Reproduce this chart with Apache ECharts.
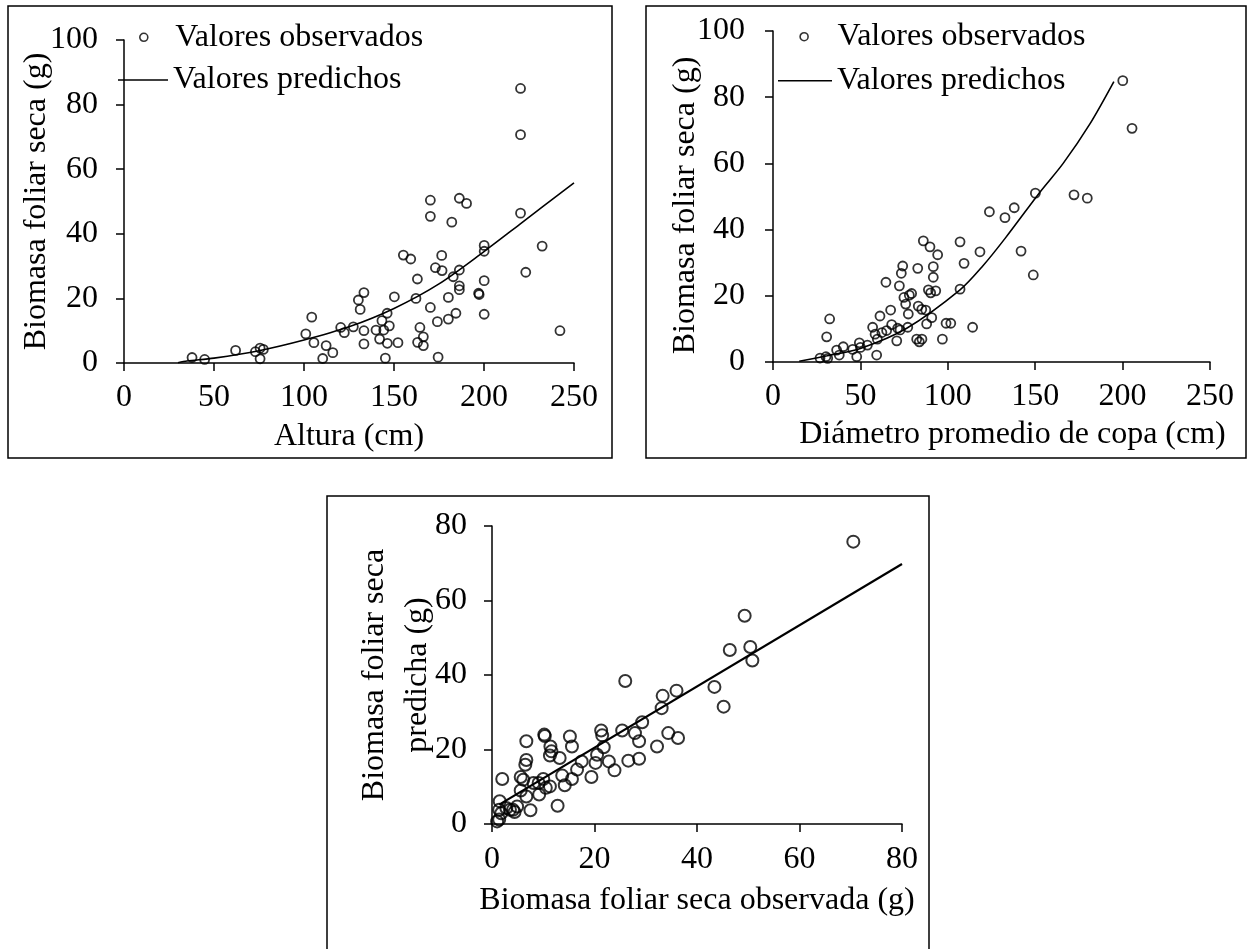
<!DOCTYPE html>
<html>
<head>
<meta charset="utf-8">
<script src="https://cdn.jsdelivr.net/npm/echarts@6/dist/echarts.min.js"></script>
<style>
  html, body { margin: 0; padding: 0; background: #fff; }
  #chart { width: 1250px; height: 949px; }
</style>
</head>
<body>
<div id="chart"></div>
<script>
// altura (cm) vs biomasa foliar seca observada (g)
var alturaObs = [
  [37.8,1.7],[44.8,1.1],[62,3.9],[73,3.5],[75.6,4.6],[77.4,4.2],[75.6,1.3],
  [101,9.0],[104.3,14.2],[105.5,6.3],[110.4,1.4],[112.3,5.4],[116,3.2],
  [120.4,11.0],[122.4,9.4],[127.4,11.2],[130.2,19.5],[131.2,16.6],[133.3,21.8],[133.3,10.0],[133.3,5.9],
  [140,10.2],[142,7.4],[143.3,13.1],[144.3,10.2],[146.2,15.4],[147.4,11.5],[146.3,6.1],[145.2,1.5],[150.2,20.5],[152.2,6.3],
  [155.2,33.4],[159.3,32.2],[163,26.0],[162.2,20.0],[164.4,11.0],[163.1,6.4],[166.3,8.1],[166.3,5.4],
  [170.2,50.4],[170.2,45.4],[170.2,17.2],[173,29.5],[174.1,12.8],[174.5,1.8],[176.5,33.3],[176.7,28.6],
  [182.1,43.6],[182.9,26.7],[186.3,28.8],[186.3,23.9],[186.3,22.7],[180.2,20.3],[184.4,15.4],[180.2,13.6],
  [186.3,51.0],[190.3,49.4],[197,21.6],[197.3,21.2],[200.1,36.4],[200.1,34.6],[200.1,25.5],[200.1,15.1],
  [220.3,85.0],[220.3,70.7],[220.3,46.4],[223.2,28.1],[232.3,36.2],[242.2,10.0]
];
var alturaPred = [
  [30,0.1],[35,0.6],[50,1.5],[75,3.8],[100,7.1],[125,11.2],[150,16.9],[175,24.5],[200,34.5],[220,43],[250,55.8]
];

// diámetro promedio de copa (cm) vs biomasa foliar seca (g)
var copaObs = [
  [26.9,1.2],[30.3,1.6],[31.3,1.1],[30.7,7.6],[32.4,13.0],[36.4,3.6],[37.9,2.1],[40.2,4.6],[45.6,3.8],[47.9,1.6],[49.4,5.8],[50,4.4],[54,5.1],
  [57,10.5],[59.3,2.1],[58.4,8.4],[59.7,6.9],[61.2,13.9],[62.3,8.9],[64.6,24.1],[65,9.5],[67.3,15.7],[67.9,11.3],[70.8,6.4],[71.3,10.2],[72.7,9.7],
  [72.3,23.0],[73.4,26.8],[74.2,29.0],[74.9,19.5],[75.9,17.5],[77.1,10.5],[77.4,14.5],[78,20.2],[79.3,20.7],[82.8,28.3],[83.1,16.9],[85.1,15.9],
  [82.2,6.9],[83.7,6.1],[85.2,6.9],[86,36.6],[87.4,15.7],[87.9,11.5],[89.8,34.8],[88.9,21.8],[90.2,20.9],[90.8,13.4],[91.7,28.8],[91.7,25.6],
  [93.1,21.5],[94.2,32.4],[96.9,6.9],[99,11.7],[101.7,11.7],[107,36.3],[107,22.0],[109.3,29.8],[114.2,10.5],[118.4,33.3],
  [123.8,45.4],[132.7,43.6],[138,46.6],[141.9,33.5],[148.9,26.3],[150.1,51.0],[172.2,50.5],[179.8,49.5],[200.1,85.0],[205.4,70.6]
];
var copaPred = [
  [15,0.2],[31,1.9],[50,4.1],[76.5,10.2],[107,21.8],[120,29],[133,37.5],[152.7,51.3],[166,60],[181.4,72],[195,84.7]
];

// biomasa observada vs predicha (g)
var obsPred = [
  [70.5,75.8],[49.3,55.9],[46.4,46.7],[50.4,47.5],[50.8,43.9],[43.4,36.8],[45.2,31.5],
  [26.0,38.4],[33.3,34.4],[33.1,31.1],[36.0,35.8],[29.3,27.3],[25.4,25.1],[21.3,25.1],[21.5,23.8],[21.8,20.6],
  [20.5,18.6],[20.2,16.4],[22.8,16.8],[23.9,14.4],[27.9,24.4],[28.7,22.2],[28.7,17.5],[26.6,17.0],[32.2,20.8],
  [34.4,24.4],[36.3,23.1],[19.4,12.6],[17.5,16.8],[16.6,14.6],[15.6,12.1],[15.2,23.5],[15.6,20.8],[14.2,10.4],
  [13.7,13.0],[13.2,17.7],[12.8,4.9],[11.4,20.8],[11.6,19.5],[11.3,18.4],[11.3,10.1],[10.2,24.0],[10.3,23.6],
  [10.0,12.1],[10.5,9.7],[9.2,7.9],[9.1,11.0],[8.1,11.0],[6.7,22.2],[6.7,17.2],[6.5,15.9],[5.6,12.6],[6.1,11.9],
  [5.6,9.0],[6.7,7.4],[7.5,3.7],[2.0,12.1],[1.5,6.1],[1.4,3.8],[1.8,2.9],[1.4,1.2],[4.1,3.8],[4.4,3.2],[4.9,4.7],
  [3.5,3.8],[2.8,4.3],[1.0,0.7]
];
var obsPredLine = [[1.4,5.2],[80,69.8]];

var xTicksTop = [0, 250, 50];
var yTicksTop = [0, 100, 20];
var ticksBottom = [0, 80, 20];

var font = "'Liberation Serif', 'Times New Roman', serif";
var chart = echarts.init(document.getElementById('chart'));

function axis(gridIndex, ticks, name, nameGap, labelMargin, extra) {
  var a = {
    type: 'value',
    gridIndex: gridIndex,
    min: ticks[0], max: ticks[1], interval: ticks[2],
    name: name,
    nameLocation: 'middle',
    nameGap: nameGap,
    nameMoveOverlap: false,
    nameTextStyle: { fontFamily: font, fontSize: 32, color: '#000' },
    axisLine: { show: true, onZero: false, lineStyle: { color: '#000', width: 1.5 } },
    axisTick: { show: true, inside: false, length: 8, lineStyle: { color: '#000', width: 1.5 } },
    axisLabel: { fontFamily: font, fontSize: 32, color: '#000', margin: labelMargin },
    splitLine: { show: false }
  };
  for (var k in extra) a[k] = extra[k];
  return a;
}

var ptStyle = { color: 'rgba(0,0,0,0)', borderColor: '#000', borderWidth: 1.8 };

// legend item box is as tall as the text (32px), icon centred in it
function legendCircle(left, top, textPad) {
  return {
    left: left, top: top, padding: 0,
    itemWidth: 8, itemHeight: 8,
    data: [{ name: 'Valores observados', icon: 'circle' }],
    itemStyle: { color: 'rgba(0,0,0,0)', borderColor: '#000', borderWidth: 1.6 },
    textStyle: { fontFamily: font, fontSize: 32, color: '#000', padding: [0, 0, 0, textPad] },
    selectedMode: false
  };
}
function legendLine(left, top, width) {
  return {
    left: left, top: top, padding: 0,
    itemWidth: width, itemHeight: 1.6,
    data: [{ name: 'Valores predichos', icon: 'rect' }],
    itemStyle: { color: '#000', borderWidth: 0 },
    textStyle: { fontFamily: font, fontSize: 32, color: '#000' },
    selectedMode: false
  };
}

var option = {
  animation: false,
  backgroundColor: '#fff',
  graphic: [
    { type: 'rect', silent: true, shape: { x: 8, y: 6, width: 604, height: 452 }, style: { fill: 'none', stroke: '#000', lineWidth: 1.5 } },
    { type: 'rect', silent: true, shape: { x: 646, y: 6, width: 600, height: 452 }, style: { fill: 'none', stroke: '#000', lineWidth: 1.5 } },
    { type: 'rect', silent: true, shape: { x: 327, y: 496, width: 602, height: 470 }, style: { fill: 'none', stroke: '#000', lineWidth: 1.5 } }
  ],
  legend: [
    legendCircle(139, 21.3, 22.5),
    legendLine(118, 64, 50),
    legendCircle(799.3, 20.7, 24.5),
    legendLine(778, 64.7, 54)
  ],
  grid: [
    { left: 124, top: 40, width: 450, height: 323 },
    { left: 773, top: 31, width: 437, height: 331 },
    { left: 492, top: 526, width: 410, height: 298 }
  ],
  xAxis: [
    axis(0, xTicksTop, 'Altura (cm)', 58, 19, {}),
    axis(1, xTicksTop, 'Diámetro promedio de copa (cm)', 57, 19, { nameTextStyle: { fontFamily: font, fontSize: 32, color: '#000', padding: [0, 0, 0, 42] } }),
    axis(2, ticksBottom, 'Biomasa foliar seca observada (g)', 61, 20, {})
  ],
  yAxis: [
    axis(0, yTicksTop, 'Biomasa foliar seca (g)', 71, 26, {}),
    axis(1, yTicksTop, 'Biomasa foliar seca (g)', 71, 28, { nameTextStyle: { fontFamily: font, fontSize: 32, color: '#000', padding: [0, 18, 0, 0] } }),
    axis(2, ticksBottom, 'Biomasa foliar seca\npredicha (g)', 53, 25, { nameTextStyle: { fontFamily: font, fontSize: 32, color: '#000', lineHeight: 43 } })
  ],
  series: [
    { name: 'Valores observados', type: 'scatter', xAxisIndex: 0, yAxisIndex: 0, data: alturaObs, symbol: 'circle', symbolSize: 9, itemStyle: ptStyle },
    { name: 'Valores predichos', type: 'line', xAxisIndex: 0, yAxisIndex: 0, data: alturaPred, symbol: 'none', smooth: 0.3, lineStyle: { color: '#000', width: 1.6 }, itemStyle: { color: '#000' } },
    { name: 'Valores observados', type: 'scatter', xAxisIndex: 1, yAxisIndex: 1, data: copaObs, symbol: 'circle', symbolSize: 9, itemStyle: ptStyle },
    { name: 'Valores predichos', type: 'line', xAxisIndex: 1, yAxisIndex: 1, data: copaPred, symbol: 'none', smooth: 0.3, lineStyle: { color: '#000', width: 1.6 }, itemStyle: { color: '#000' } },
    { name: 'Observada vs predicha', type: 'scatter', xAxisIndex: 2, yAxisIndex: 2, data: obsPred, symbol: 'circle', symbolSize: 12, itemStyle: { color: 'rgba(0,0,0,0)', borderColor: '#000', borderWidth: 2 } },
    { name: 'Ajuste', type: 'line', xAxisIndex: 2, yAxisIndex: 2, data: obsPredLine, symbol: 'none', lineStyle: { color: '#000', width: 2.2 }, itemStyle: { color: '#000' } }
  ]
};
chart.setOption(option);
</script>
</body>
</html>
